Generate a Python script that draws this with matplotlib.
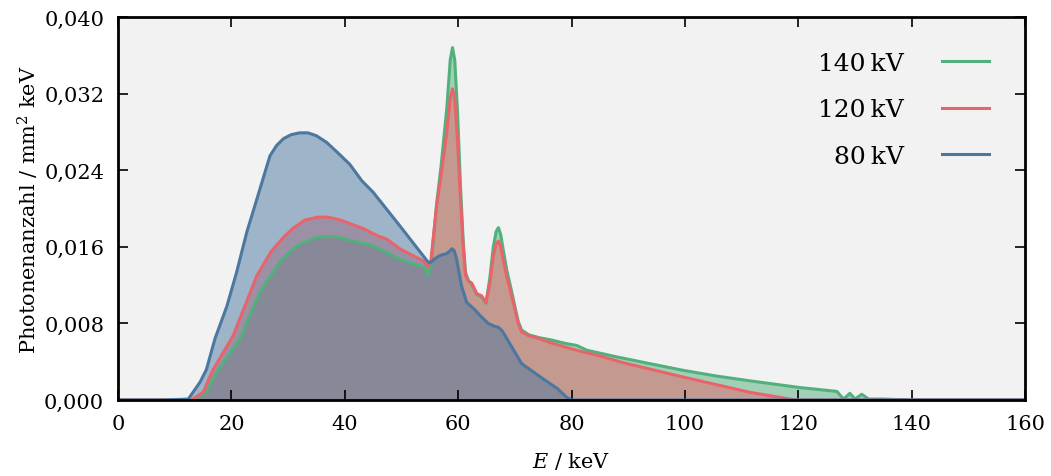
import numpy as np
import matplotlib
matplotlib.use("Agg")
import matplotlib.pyplot as plt
from matplotlib.ticker import FuncFormatter

# Photon energy (keV) and fluence per mm^2 keV for each tube voltage
e_80 = [0, 8, 12.4, 14.5, 15.6, 17.1, 19.2, 20.9, 22.7, 24.5, 26.8, 28.0, 29.2, 30.5,
        32.0, 33.5, 35.0, 36.8, 38.8, 40.9, 43.0, 45.0, 49.7, 54.7, 55.0, 56.0, 56.8,
        58.0, 58.6, 58.9, 59.3, 59.7, 60.1, 60.6, 61.5, 63.0, 63.9, 65.3, 66.4, 67.1,
        67.8, 69.0, 71.2, 75.0, 77.5, 79.1, 80.0, 160]
f_80 = [0, 0, 0.0001, 0.0019, 0.0032, 0.0064, 0.0098, 0.0133, 0.0175, 0.0210, 0.0255,
        0.0266, 0.0273, 0.0277, 0.0279, 0.0279, 0.0276, 0.0269, 0.0258, 0.0246, 0.0229,
        0.0217, 0.0182, 0.0144, 0.0143, 0.0148, 0.0151, 0.0153, 0.0156, 0.0158, 0.0156,
        0.0148, 0.0135, 0.0119, 0.0102, 0.0094, 0.0088, 0.0080, 0.0077, 0.0076, 0.0072,
        0.0060, 0.0038, 0.0022, 0.0012, 0.0003, 0, 0]

e_120 = [0, 12.9, 15.0, 16.8, 20.3, 24.5, 27.0, 29.2, 31.0, 33.0, 35.3, 37.0, 39.2,
         43.3, 45.6, 47.4, 49.7, 53.9, 54.7, 55.2, 56.2, 57.0, 58.0, 58.6, 59.0, 59.4,
         59.9, 60.4, 60.9, 61.3, 61.8, 62.4, 63.3, 64.1, 64.9, 65.6, 66.2, 66.7, 67.1,
         67.5, 68.0, 68.6, 69.3, 70.0, 70.6, 71.2, 72.5, 74.4, 76.2, 79.1, 81.5, 85.0,
         89.1, 99.7, 111.5, 119.5, 160]
f_120 = [0, 0, 0.0008, 0.0032, 0.0067, 0.0130, 0.0155, 0.0170, 0.0180, 0.0188, 0.0191,
         0.0191, 0.0188, 0.0179, 0.0172, 0.0168, 0.0158, 0.0145, 0.0139, 0.0146, 0.0203,
         0.0235, 0.0280, 0.0315, 0.0325, 0.0315, 0.0270, 0.0210, 0.0160, 0.0130, 0.0124,
         0.0122, 0.0111, 0.0109, 0.0102, 0.0122, 0.0150, 0.0163, 0.0166, 0.0160, 0.0145,
         0.0128, 0.0112, 0.0095, 0.0080, 0.0071, 0.0067, 0.0064, 0.0060, 0.0055, 0.0051,
         0.0046, 0.0039, 0.0024, 0.0008, 0, 0]

e_140 = [0, 13.2, 15.6, 17.4, 21.5, 25.0, 28.6, 31.5, 35.1, 38.0, 41.5, 45.0, 49.7,
         53.3, 54.0, 54.7, 55.2, 56.2, 57.0, 58.0, 58.6, 59.0, 59.4, 59.9, 60.4, 60.9,
         61.3, 61.8, 62.4, 63.3, 64.1, 64.9, 65.6, 66.2, 66.7, 67.1, 67.5, 68.0, 68.6,
         69.3, 70.0, 70.6, 71.2, 72.5, 74.4, 76.2, 79.0, 80.9, 82.7, 88.0, 93.8, 99.7,
         105.6, 111.5, 120.3, 126.8, 128.0, 129.1, 130.0, 131.2, 132.4, 135.0, 140.0, 160]
f_140 = [0, 0, 0.0008, 0.0029, 0.0064, 0.0112, 0.0145, 0.0161, 0.0170, 0.0171, 0.0166,
         0.0161, 0.0147, 0.0140, 0.0139, 0.0130, 0.0140, 0.0205, 0.0245, 0.0305, 0.0355,
         0.0368, 0.0355, 0.0300, 0.0225, 0.0165, 0.0133, 0.0125, 0.0121, 0.0110, 0.0108,
         0.0101, 0.0128, 0.0160, 0.0176, 0.0180, 0.0173, 0.0155, 0.0135, 0.0117, 0.0098,
         0.0082, 0.0073, 0.0068, 0.0065, 0.0063, 0.0059, 0.0057, 0.0052, 0.0045, 0.0038,
         0.0031, 0.0025, 0.0020, 0.0013, 0.0009, 0.0001, 0.0007, 0.0001, 0.0006, 0.0001,
         0.0001, 0, 0]

series = [
    ("140\u2009kV", e_140, f_140, "#52b07c"),
    ("120\u2009kV", e_120, f_120, "#e8646b"),
    ("80\u2009kV", e_80, f_80, "#4c78a0"),
]

x_ticks = [0, 20, 40, 60, 80, 100, 120, 140, 160]
y_ticks = [0.000, 0.008, 0.016, 0.024, 0.032, 0.040]

serif = "DejaVu Serif"
plt.rcParams["font.family"] = [serif]
plt.rcParams["mathtext.fontset"] = "custom"
plt.rcParams["mathtext.rm"] = serif
plt.rcParams["mathtext.it"] = serif + ":italic"

fig = plt.figure(figsize=(10.51, 4.77), dpi=100)
ax = fig.add_axes([0.1123, 0.1593, 0.8630, 0.8030])
ax.set_facecolor("#f2f2f2")

for label, e, f, c in series:
    ax.fill_between(e, f, 0, color=c, alpha=0.5, linewidth=0)
for label, e, f, c in series:
    ax.plot(e, f, color=c, lw=2.2, label=label, solid_joinstyle="round")

ax.set_xlim(0, 160)
ax.set_ylim(0, 0.040)
ax.set_xticks(x_ticks)
ax.set_yticks(y_ticks)
ax.yaxis.set_major_formatter(FuncFormatter(lambda v, p: f"{v:.3f}".replace(".", ",")))
ax.tick_params(direction="in", length=7, width=1.2, top=True, right=True,
               labelsize=15, colors="black")
ax.tick_params(axis="x", pad=10)
ax.tick_params(axis="y", pad=10)
for s in ax.spines.values():
    s.set_linewidth(2.0)

ax.set_xlabel("$E$ / keV", fontsize=15, labelpad=12)
ax.set_ylabel("Photonenanzahl / mm$^2$ keV", fontsize=15, labelpad=2)

leg = ax.legend(loc="upper right", frameon=False, markerfirst=False, fontsize=18,
                handlelength=1.9, labelspacing=0.95, handletextpad=1.5,
                borderaxespad=0.6, bbox_to_anchor=(0.988, 0.975))
for t in leg.get_texts():
    t.set_ha("right")
leg._legend_box.align = "right"

fig.savefig("out.png", dpi=100)
